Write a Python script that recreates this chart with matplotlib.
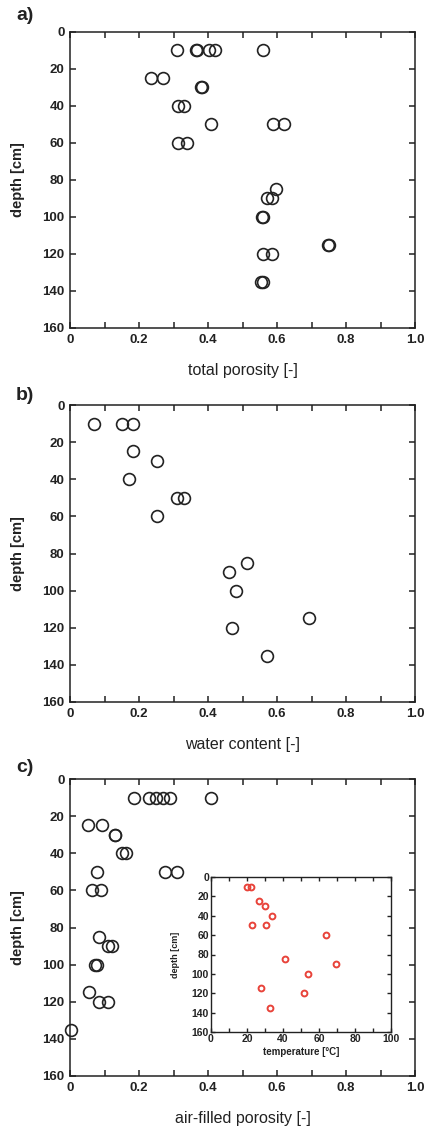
import matplotlib
matplotlib.use("Agg")
import matplotlib.pyplot as plt
from matplotlib.ticker import MultipleLocator, FuncFormatter

plt.rcParams['font.family'] = ['Liberation Sans', 'DejaVu Sans']

# Panel a: total porosity
depth_a = [10, 10, 10, 10, 10, 10, 25, 25, 30, 30, 40, 40, 50, 50, 50, 60, 60,
           85, 90, 90, 100, 100, 115, 115, 120, 120, 135, 135]
total_porosity = [0.311, 0.364, 0.367, 0.403, 0.420, 0.560, 0.234, 0.271, 0.379, 0.382,
                  0.314, 0.330, 0.408, 0.587, 0.620, 0.314, 0.338,
                  0.596, 0.570, 0.585, 0.557, 0.560, 0.748, 0.750, 0.560, 0.585, 0.553, 0.560]

# Panel b: water content
depth_b = [10, 10, 10, 25, 30, 40, 50, 50, 60, 85, 90, 100, 115, 120, 135]
water_content = [0.070, 0.150, 0.182, 0.182, 0.253, 0.171, 0.309, 0.331, 0.253,
                 0.512, 0.460, 0.481, 0.693, 0.471, 0.570]

# Panel c: air-filled porosity
depth_c = [10, 10, 10, 10, 10, 10, 25, 25, 30, 30, 40, 40, 50, 50, 50, 60, 60,
           85, 90, 90, 100, 100, 115, 120, 120, 135]
air_porosity = [0.186, 0.230, 0.249, 0.269, 0.290, 0.408, 0.053, 0.092, 0.129, 0.131,
                0.150, 0.161, 0.077, 0.275, 0.309, 0.063, 0.089,
                0.084, 0.111, 0.123, 0.072, 0.077, 0.055, 0.084, 0.111, 0.002]

# Inset: temperature
depth_t = [10, 10, 25, 30, 40, 50, 50, 60, 85, 90, 100, 115, 120, 135]
temperature = [19.8, 22.2, 26.9, 30.0, 33.9, 22.8, 30.6, 63.7, 41.3, 69.6, 53.7, 27.6, 51.5, 32.8]

W, H = 426, 1131
fig = plt.figure(figsize=(W / 100, H / 100), dpi=100)

def frac(x0, y_top, x1, y_bot):
    return [x0 / W, 1 - y_bot / H, (x1 - x0) / W, (y_bot - y_top) / H]

def fmt_x(v, pos):
    if abs(v) < 1e-9:
        return "0"
    return f"{v:.1f}"

def style(ax, xlabel, tick_fs=9.5, lab_fs=11.5, tick_len=4.5, lw=1.1, xmax=1.0,
          xmaj=0.2, xmin=0.1, xfmt=fmt_x, ylab_x=-0.13, xlab_y=-0.118, ylabel_fs=10.5,
          pad=4, xlabel_weight='normal'):
    ax.set_xlim(0, xmax)
    ax.set_ylim(160, 0)
    ax.xaxis.set_major_locator(MultipleLocator(xmaj))
    ax.xaxis.set_minor_locator(MultipleLocator(xmin))
    ax.yaxis.set_major_locator(MultipleLocator(20))
    ax.xaxis.set_major_formatter(FuncFormatter(xfmt))
    ax.tick_params(which='both', direction='in', top=True, right=True,
                   length=tick_len, width=lw, labelsize=tick_fs, colors='#222222', pad=pad)
    for lab in ax.get_xticklabels() + ax.get_yticklabels():
        lab.set_fontweight('bold')
    for s in ax.spines.values():
        s.set_linewidth(lw)
        s.set_color('#222222')
    ax.set_xlabel(xlabel, fontsize=lab_fs, color='#222222', fontweight=xlabel_weight)
    ax.set_ylabel('depth [cm]', fontsize=ylabel_fs, fontweight='bold', color='#222222')
    ax.yaxis.set_label_coords(ylab_x, 0.5)
    ax.xaxis.set_label_coords(0.5, xlab_y)

mk = dict(marker='o', linestyle='none', markersize=8.5, markerfacecolor='none',
          markeredgecolor='#222222', markeredgewidth=1.2, clip_on=False)

ax_a = fig.add_axes(frac(70, 32, 415, 328))
ax_a.plot(total_porosity, depth_a, **mk)
style(ax_a, 'total porosity [-]')

ax_b = fig.add_axes(frac(70, 405, 415, 702))
ax_b.plot(water_content, depth_b, **mk)
style(ax_b, 'water content [-]')

ax_c = fig.add_axes(frac(70, 779, 415, 1076))
ax_c.plot(air_porosity, depth_c, **mk)
style(ax_c, 'air-filled porosity [-]')

ax_i = fig.add_axes(frac(211, 877, 391, 1032))
ax_i.plot(temperature, depth_t, marker='o', linestyle='none', markersize=4.2,
          markerfacecolor='none', markeredgecolor='#e8433a', markeredgewidth=1.4)
style(ax_i, 'temperature [°C]', tick_fs=7.5, lab_fs=7, tick_len=3, lw=1.0, xmax=100,
      xmaj=20, xmin=10, xfmt=lambda v, p: f"{v:.0f}", ylab_x=-0.17, xlab_y=-0.097,
      ylabel_fs=6.5, pad=1.5, xlabel_weight='bold')

for lbl, y in [('a)', 15), ('b)', 395), ('c)', 768)]:
    fig.text(16 / W, 1 - y / H, lbl, fontsize=14, fontweight='bold',
             color='#222222', ha='left', va='center')

fig.savefig('out.png', dpi=100)
